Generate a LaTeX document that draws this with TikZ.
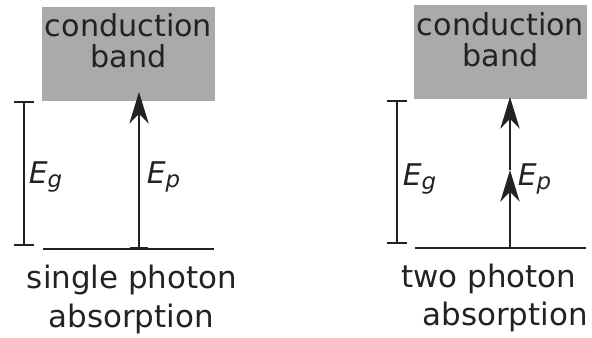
\documentclass[tikz,border=0pt]{standalone}
\usepackage{fontspec}
\setmainfont{DejaVu Sans}
\usetikzlibrary{arrows.meta}
\usepackage{xcolor}
\definecolor{bandgray}{RGB}{170,170,170}
\definecolor{ink}{RGB}{34,34,34}
\newcommand{\enlabel}[2]{\textit{#1}\raisebox{-2.5pt}{\fontsize{13}{13}\selectfont\textit{#2}}}

\begin{document}
\begin{tikzpicture}[x=0.02cm,y=-0.02cm,line width=0.95pt,draw=ink,text=ink,
  band/.style={fill=bandgray,draw=none,inner sep=0pt,minimum width=3.46cm,minimum height=1.88cm},
  bigtext/.style={font=\fontsize{17.2}{17.6}\selectfont,inner sep=0pt,align=center},
  linetext/.style={font=\fontsize{17.6}{17.6}\selectfont,inner sep=0pt,anchor=base},
  entext/.style={font=\fontsize{17}{17}\selectfont,inner sep=0pt,anchor=base west},
  gap/.style={{Bar[width=11pt]}-{Bar[width=11pt]}},
  photon/.style={-{Stealth[length=18pt,width=11pt,inset=5.5pt]}}]
\useasboundingbox (0,0) rectangle (592,338);
% single photon absorption
\node[band] (band1) at (128.5,54) {};
\node[bigtext] (cb1) at (128.5,41) {conduction\\band};
\coordinate (gl1) at (43,249);
\coordinate (gr1) at (214,249);
\draw (gl1) -- (gr1);
\coordinate (egt1) at (24,101);
\coordinate (egb1) at (24,246);
\draw[gap] (egb1) -- (egt1);
\coordinate (pb1) at (139,249);
\coordinate (pt1) at (139,92);
\draw[{Bar[width=10pt]}-{Stealth[length=18pt,width=11pt,inset=5.5pt]}] (pb1) -- (pt1);
\node[entext] (eg1) at (28,183) {\enlabel{E}{g}};
\node[entext] (ep1) at (146,183) {\enlabel{E}{p}};
\node[linetext] (sp1) at (132,288) {single photon};
\node[linetext] (ab1) at (131,327) {absorption};
% two photon absorption
\node[band] (band2) at (500.5,52) {};
\node[bigtext] (cb2) at (500.5,40) {conduction\\band};
\coordinate (gl2) at (415,248);
\coordinate (gr2) at (586,248);
\draw (gl2) -- (gr2);
\coordinate (egt2) at (397,100);
\coordinate (egb2) at (397,244);
\draw[gap] (egb2) -- (egt2);
\coordinate (pb2) at (510,248);
\coordinate (pm2) at (510,170);
\coordinate (pt2) at (510,97);
\draw[photon] (pb2) -- (pm2);
\draw[photon] (pm2) -- (pt2);
\node[entext] (eg2) at (402,185) {\enlabel{E}{g}};
\node[entext] (ep2) at (517,185) {\enlabel{E}{p}};
\node[linetext] (tp2) at (489,287) {two photon};
\node[linetext] (ab2) at (505,325) {absorption};
\end{tikzpicture}
\end{document}
